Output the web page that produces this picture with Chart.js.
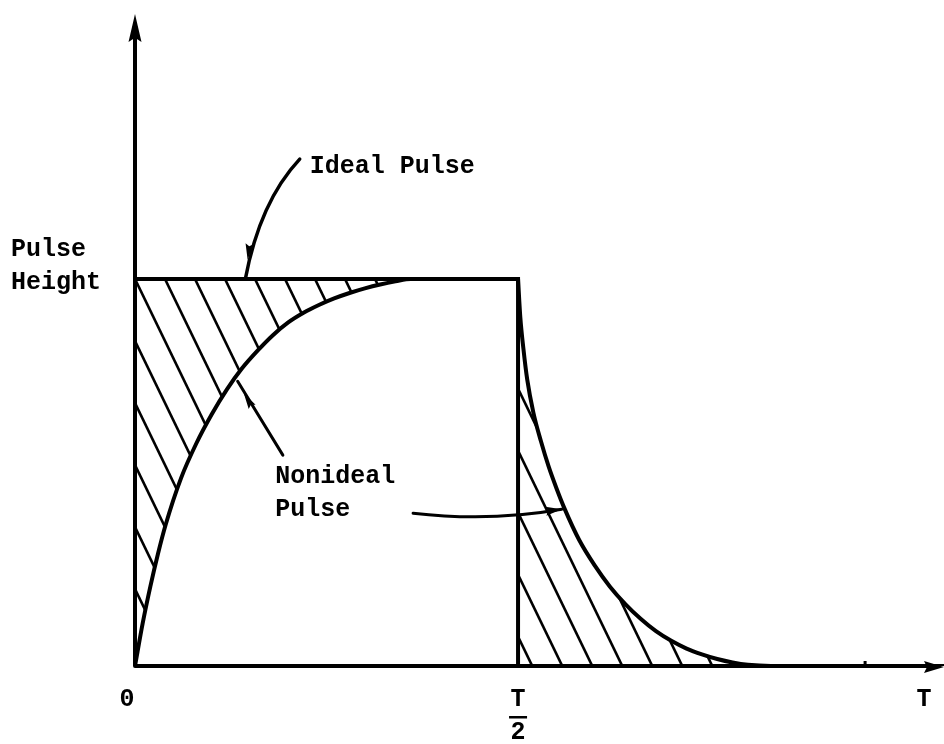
<!DOCTYPE html>
<html>
<head>
<meta charset="utf-8">
<script src="https://cdn.jsdelivr.net/npm/chart.js@4/dist/chart.umd.min.js"></script>
<style>
  html, body { margin: 0; padding: 0; background: #fff; }
  canvas { display: block; }
</style>
</head>
<body>
<canvas id="pulso" width="944" height="744"></canvas>
<script>
// --- Dados (t em unidades de T, altura relativa ao pulso ideal) ---
const tIdeal = [0, 0, 0.5, 0.5];
const yIdeal = [0, 1, 1, 0];

const tSubida = [0, 0.01, 0.02, 0.03, 0.04, 0.06, 0.08, 0.10, 0.12, 0.14, 0.16, 0.18, 0.20, 0.22, 0.24, 0.26, 0.28, 0.30, 0.32, 0.34, 0.36, 0.5];
const ySubida = [0, 0.11, 0.205, 0.29, 0.365, 0.485, 0.575, 0.65, 0.715, 0.77, 0.815, 0.855, 0.888, 0.913, 0.933, 0.95, 0.964, 0.976, 0.986, 0.994, 1.0, 1.0];

const tDescida = [0.5, 0.503, 0.507, 0.512, 0.52, 0.53, 0.54, 0.55, 0.56, 0.58, 0.60, 0.62, 0.64, 0.66, 0.68, 0.70, 0.72, 0.74, 0.76, 0.78, 0.80, 0.83, 1.056];
const yDescida = [1.0, 0.9, 0.82, 0.74, 0.655, 0.58, 0.515, 0.46, 0.41, 0.325, 0.26, 0.205, 0.16, 0.122, 0.09, 0.065, 0.045, 0.03, 0.018, 0.009, 0.003, 0, 0];

const xTicks = [0, 0.5, 1.03];
const xTickLabels = ["0", "T/2", "T"];
const marcaEixo = 0.953;

const FONTE = "bold 25px 'Liberation Mono', 'DejaVu Sans Mono', monospace";

function pontos(ts, ys){
    return ts.map((t,i)=>({x:t, y:ys[i]}));
}

// padrão de hachura "\" (espaçamento horizontal ~30px)
function criarHachura(){
    const c = document.createElement("canvas");
    c.width = 30; c.height = 62;
    const g = c.getContext("2d");
    g.strokeStyle = "#000";
    g.lineWidth = 2.6;
    [-30, 0, 30].forEach(ox=>{
        g.beginPath();
        g.moveTo(ox - 30, -62);
        g.lineTo(ox + 60, 124);
        g.stroke();
    });
    return g.createPattern(c, "repeat");
}

function seta(ctx, x, y, ang, comp, larg){
    ctx.save();
    ctx.translate(x, y);
    ctx.rotate(ang);
    ctx.beginPath();
    ctx.moveTo(0, 0);
    ctx.lineTo(-comp, -larg/2);
    ctx.lineTo(-comp*0.85, 0);
    ctx.lineTo(-comp, larg/2);
    ctx.closePath();
    ctx.fill();
    ctx.restore();
}

// --- Eixos, setas e textos ---
const desenhoExtra = {
    id: "desenhoExtra",
    afterDatasetsDraw(chart){
        const ctx = chart.ctx;
        const sx = chart.scales.x, sy = chart.scales.y;
        const px = v => sx.getPixelForValue(v);
        const py = v => sy.getPixelForValue(v);
        const x0 = px(0), y0 = py(0);
        const area = chart.chartArea;

        ctx.save();
        ctx.strokeStyle = "#000";
        ctx.fillStyle = "#000";
        ctx.lineCap = "round";

        // eixos
        ctx.lineWidth = 4;
        ctx.beginPath();
        ctx.moveTo(x0, y0);
        ctx.lineTo(x0, area.top + 20);
        ctx.moveTo(x0, y0);
        ctx.lineTo(area.right - 14, y0);
        ctx.stroke();
        seta(ctx, x0, area.top, -Math.PI/2, 28, 13);
        seta(ctx, area.right, y0 + 1, 0, 20, 12);

        // marca no eixo x
        ctx.fillRect(px(marcaEixo) - 1.5, y0 - 5, 3, 6);

        // rótulos do eixo x
        ctx.font = FONTE;
        ctx.textAlign = "center";
        ctx.textBaseline = "middle";
        xTicks.forEach((v,i)=>{
            const lab = xTickLabels[i];
            if(lab.includes("/")){
                const [num, den] = lab.split("/");
                ctx.fillText(num, px(v), y0 + 34);
                ctx.fillRect(px(v) - 9, y0 + 50, 18, 2.5);
                ctx.fillText(den, px(v), y0 + 67);
            } else {
                ctx.fillText(lab, px(v) + (i===0 ? -8 : 0), y0 + 34);
            }
        });

        // rótulo do eixo y
        ctx.textAlign = "left";
        ctx.fillText("Pulse", 11, py(1.075));
        ctx.fillText("Height", 11, py(0.99));

        // anotação: pulso ideal
        ctx.fillText("Ideal Pulse", px(0.228), py(1.29));
        ctx.lineWidth = 3.5;
        ctx.beginPath();
        ctx.moveTo(px(0.215), py(1.31));
        ctx.quadraticCurveTo(px(0.163), py(1.20), px(0.144), py(1.0));
        ctx.stroke();
        seta(ctx, px(0.147), py(1.05), Math.PI/2 + 0.12, 16, 8);

        // anotação: pulso não ideal
        ctx.fillText("Nonideal", px(0.183), py(0.49));
        ctx.fillText("Pulse", px(0.183), py(0.405));
        ctx.lineWidth = 3;
        ctx.beginPath();
        ctx.moveTo(px(0.193), py(0.545));
        ctx.lineTo(px(0.134), py(0.736));
        ctx.stroke();
        seta(ctx, px(0.142), py(0.705), Math.atan2(py(0.736)-py(0.545), px(0.134)-px(0.193)), 16, 8);

        ctx.beginPath();
        ctx.moveTo(px(0.363), py(0.395));
        ctx.quadraticCurveTo(px(0.463), py(0.372), px(0.557), py(0.405));
        ctx.stroke();
        seta(ctx, px(0.557), py(0.405), -0.12, 16, 9);

        ctx.restore();
    }
};

const hachura = criarHachura();

new Chart(document.getElementById("pulso"), {
    type: "scatter",
    data: {
        datasets: [
            {
                label: "Nonideal Pulse (subida)",
                data: pontos(tSubida, ySubida),
                showLine: true,
                borderColor: "#000",
                borderWidth: 4,
                pointRadius: 0,
                cubicInterpolationMode: "monotone",
                backgroundColor: hachura,
                fill: { value: 1 }
            },
            {
                label: "Nonideal Pulse (descida)",
                data: pontos(tDescida, yDescida),
                showLine: true,
                borderColor: "#000",
                borderWidth: 4,
                pointRadius: 0,
                cubicInterpolationMode: "monotone",
                backgroundColor: hachura,
                fill: "origin"
            },
            {
                label: "Ideal Pulse",
                data: pontos(tIdeal, yIdeal),
                showLine: true,
                borderColor: "#000",
                borderWidth: 4,
                pointRadius: 0,
                tension: 0,
                fill: false
            }
        ]
    },
    options: {
        responsive: false,
        animation: false,
        layout: { padding: { left: 135, top: 14, right: 0, bottom: 78 } },
        plugins: { legend: { display: false }, tooltip: { enabled: false } },
        scales: {
            x: { type: "linear", min: 0, max: 1.056, display: false },
            y: { type: "linear", min: 0, max: 1.685, display: false }
        }
    },
    plugins: [desenhoExtra]
});
</script>
</body>
</html>
